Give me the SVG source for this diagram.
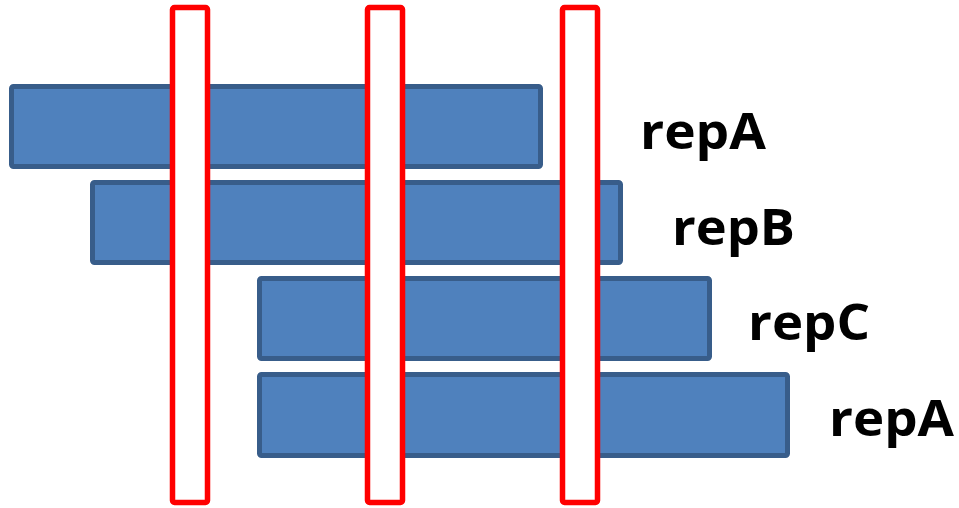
<svg xmlns="http://www.w3.org/2000/svg" width="959" height="508" viewBox="0 0 959 508">
  <style>
    .bar { fill: #4f81bd; stroke: #385d8a; stroke-width: 5; }
    .cut { fill: #ffffff; stroke: #ff0000; stroke-width: 5.5; }
    .lbl { font-family: "Open Sans", "Liberation Sans", sans-serif; font-weight: bold; font-size: 51px; fill: #000000; }
  </style>
  <rect width="959" height="508" fill="#ffffff"/>
  <g id="bars">
    <g id="bar-repA-1"><rect class="bar" x="11.5" y="86.5" width="529" height="80" rx="2"/></g>
    <g id="bar-repB"><rect class="bar" x="92.5" y="182.5" width="528" height="80" rx="2"/></g>
    <g id="bar-repC"><rect class="bar" x="259.5" y="278.5" width="450" height="80" rx="2"/></g>
    <g id="bar-repA-2"><rect class="bar" x="259.5" y="374.5" width="528" height="81" rx="2"/></g>
  </g>
  <g id="cuts">
    <g id="cut-1"><rect class="cut" x="172.5" y="7.5" width="35" height="495" rx="2"/></g>
    <g id="cut-2"><rect class="cut" x="367.5" y="7.5" width="35" height="495" rx="2"/></g>
    <g id="cut-3"><rect class="cut" x="562.5" y="7.5" width="35" height="495" rx="2"/></g>
  </g>
  <g id="labels">
    <text class="lbl" x="640" y="149" textLength="126" lengthAdjust="spacingAndGlyphs">repA</text>
    <text class="lbl" x="672" y="245" textLength="123" lengthAdjust="spacingAndGlyphs">repB</text>
    <text class="lbl" x="748" y="340" textLength="122" lengthAdjust="spacingAndGlyphs">repC</text>
    <text class="lbl" x="829" y="436" textLength="125" lengthAdjust="spacingAndGlyphs">repA</text>
  </g>
</svg>
